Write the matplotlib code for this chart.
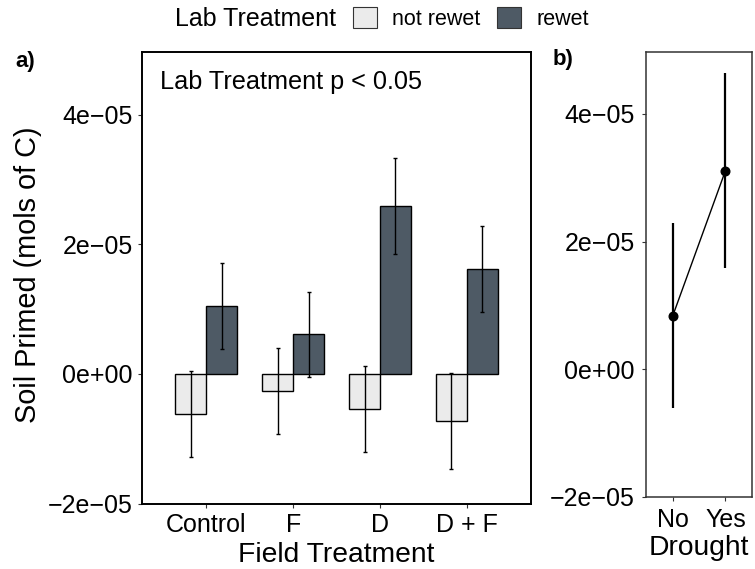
import matplotlib
matplotlib.use("Agg")
import matplotlib.pyplot as plt
from matplotlib.patches import Patch
import numpy as np

plt.rcParams['font.family'] = ['Liberation Sans', 'DejaVu Sans']

# ---- data ----
field_treatments = ["Control", "F", "D", "D + F"]
lab_treatments = ["not rewet", "rewet"]
not_rewet_mean = [-6.2e-6, -2.6e-6, -5.4e-6, -7.2e-6]
not_rewet_se = [6.6e-6, 6.6e-6, 6.7e-6, 7.4e-6]
rewet_mean = [1.05e-5, 6.1e-6, 2.59e-5, 1.62e-5]
rewet_se = [6.6e-6, 6.6e-6, 7.4e-6, 6.7e-6]

drought_levels = ["No", "Yes"]
drought_mean = [8.4e-6, 3.11e-5]
drought_ci = [1.45e-5, 1.53e-5]

y_ticks = [-2e-5, 0.0, 2e-5, 4e-5]
y_tick_labels = ["\u22122e\u221205", "0e+00", "2e\u221205", "4e\u221205"]

colors = {"not rewet": "#EBEBEB", "rewet": "#4E5A65"}

W, H = 755, 569
fig = plt.figure(figsize=(W / 100, H / 100), dpi=100)


def fx(px):
    return px / W


def fy(py):
    return 1 - py / H


# ---- panel a: bars ----
ax = fig.add_axes([fx(141.7), fy(503.5), fx(531) - fx(141.7), fy(52) - fy(503.5)])
x = np.arange(1, len(field_treatments) + 1)
bw = 0.356
for off, means, ses, lab in [(-bw / 2, not_rewet_mean, not_rewet_se, "not rewet"),
                             (bw / 2, rewet_mean, rewet_se, "rewet")]:
    ax.bar(x + off, means, width=bw, color=colors[lab], edgecolor="black",
           linewidth=1.0, zorder=2)
    ax.errorbar(x + off, means, yerr=ses, fmt="none", ecolor="black",
                elinewidth=1.0, capsize=1.6, capthick=1.0, zorder=3)

ax.set_xlim(0.255, 4.74)
ax.set_ylim(-2.0e-5, 4.97e-5)
ax.set_xticks(x)
ax.set_xticklabels(field_treatments)
ax.set_yticks(y_ticks)
ax.set_yticklabels(y_tick_labels)
for s in ax.spines.values():
    s.set_linewidth(1.4)
    s.set_color("black")
ax.tick_params(axis="both", labelsize=18, length=3, width=0.8, color="#333333",
               pad=3.5, labelcolor="black")
fig.text(fx(160), fy(89), "Lab Treatment p < 0.05", fontsize=18.2,
         ha="left", va="baseline")

# ---- panel b: drought effect ----
bx = fig.add_axes([fx(646), fy(497), fx(751.7) - fx(646), fy(52) - fy(497)])
xb = np.arange(1, len(drought_levels) + 1)
bx.errorbar(xb, drought_mean, yerr=drought_ci, fmt="none", ecolor="black",
            elinewidth=1.6, capsize=0, zorder=2)
bx.plot(xb, drought_mean, color="black", linewidth=1.0, marker="o",
        markersize=6.2, zorder=3)
bx.set_xlim(0.49, 2.5)
bx.set_ylim(-2.0e-5, 4.97e-5)
bx.set_xticks(xb)
bx.set_xticklabels(drought_levels)
bx.set_yticks(y_ticks)
bx.set_yticklabels(y_tick_labels)
for s in bx.spines.values():
    s.set_linewidth(1.1)
    s.set_color("#333333")
bx.tick_params(axis="both", labelsize=18, length=3, width=0.8, color="#333333",
               pad=5, labelcolor="black")

# ---- axis titles and panel tags ----
fig.text(fx(28), fy(275), "Soil Primed (mols of C)", fontsize=20.8,
         rotation=90, ha="center", va="center")
fig.text(fx(336.4), fy(561.7), "Field Treatment", fontsize=20.3,
         ha="center", va="baseline")
fig.text(fx(698.9), fy(555), "Drought", fontsize=20.3,
         ha="center", va="baseline")
fig.text(fx(15), fy(67), "a)", fontsize=16, fontweight="bold",
         ha="left", va="baseline")
fig.text(fx(553), fy(65), "b)", fontsize=16, fontweight="bold",
         ha="left", va="baseline")

# ---- legend ----
fig.text(fx(175), fy(26.5), "Lab Treatment", fontsize=18, ha="left", va="baseline")
handles = [Patch(facecolor=colors[k], edgecolor="#333333", linewidth=0.8, label=k)
           for k in lab_treatments]
fig.legend(handles=handles, loc="center left", bbox_to_anchor=(fx(353), fy(18.5)),
           ncol=2, frameon=False, fontsize=15.5, handlelength=1.116,
           handleheight=1.116, handletextpad=0.70, columnspacing=0.79,
           borderpad=0, borderaxespad=0)

fig.savefig("out.png", dpi=100)
